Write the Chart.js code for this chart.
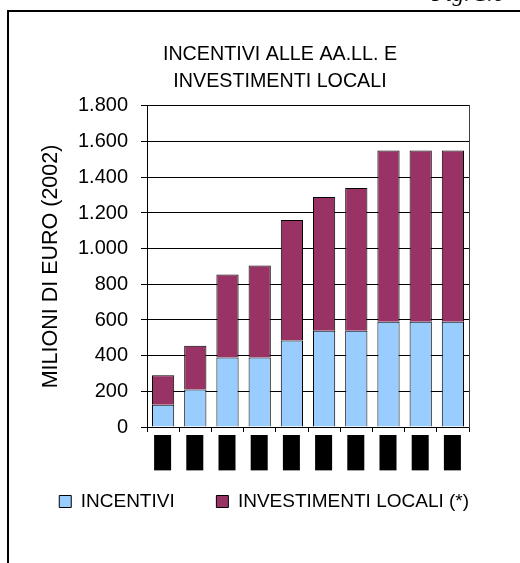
<!DOCTYPE html>
<html>
<head>
<meta charset="utf-8">
<script src="https://cdn.jsdelivr.net/npm/chart.js@4"></script>
<style>
  html, body { margin: 0; padding: 0; background: #fff; }
  #wrap { position: relative; width: 520px; height: 563px; overflow: hidden; }
  #chart { position: absolute; left: 0; top: 0; }
  .frame-top { position: absolute; left: 7px; top: 10px; width: 513px; height: 2px; background: #000; }
  .frame-left { position: absolute; left: 7px; top: 10px; width: 2px; height: 553px; background: #000; }
  .fig { position: absolute; left: 432px; top: -19px; font: italic 23px "Liberation Serif", "DejaVu Serif", serif; color: #000; }
</style>
</head>
<body>
<div id="wrap">
  <canvas id="chart" width="520" height="563"></canvas>
  <div class="frame-top"></div>
  <div class="frame-left"></div>
  <div class="fig">Fig. 1.6</div>
</div>
<script>
// values, milioni di euro (2002)
const years = ["1998", "1999", "2000", "2001", "2002", "2003", "2004", "2005", "2006", "2007"];
const incentivi = [125, 210, 390, 390, 485, 540, 540, 590, 590, 590];
const investimenti = [165, 245, 465, 515, 675, 750, 800, 960, 960, 960];
const yTicks = [0, 200, 400, 600, 800, 1000, 1200, 1400, 1600, 1800];

const FONT = "'Liberation Sans', Arial, sans-serif";

// 1800 -> "1.800"
function fmt(v) {
  return String(v).replace(/\B(?=(\d{3})+(?!\d))/g, ".");
}

// trailing blanks widen the legend items so the two entries sit where Excel put them
const legendGap = "      ";

new Chart(document.getElementById("chart"), {
  type: "bar",
  data: {
    labels: years,
    datasets: [
      { label: "INCENTIVI", data: incentivi, backgroundColor: "#99CCFF", borderColor: "#000", borderWidth: 1 },
      { label: "INVESTIMENTI LOCALI (*)", data: investimenti, backgroundColor: "#993366", borderColor: "#000", borderWidth: 1 },
    ],
  },
  options: {
    responsive: false,
    animation: false,
    layout: { padding: { left: 40, right: 0, top: 0, bottom: 42 } },
    datasets: { bar: { categoryPercentage: 1, barPercentage: 0.69 } },
    scales: {
      x: {
        stacked: true,
        grid: { drawOnChartArea: false, drawTicks: true, tickLength: 5, color: "#000" },
        border: { display: true, color: "#000" },
        ticks: {
          autoSkip: false, minRotation: 90, maxRotation: 90, padding: 4, labelOffset: -8,
          color: "#000", font: { family: FONT, size: 15, lineHeight: 1 },
          showLabelBackdrop: true, backdropColor: "#000", backdropPadding: 1,
        },
        afterFit: (s) => { s.height = 55; },
      },
      y: {
        stacked: true,
        min: 0, max: 1800,
        afterBuildTicks: (s) => { s.ticks = yTicks.map((v) => ({ value: v })); },
        grid: { color: "#000", tickLength: 6 },
        border: { display: true, color: "#000" },
        ticks: { color: "#000", padding: 13, font: { family: FONT, size: 20 }, callback: (v) => fmt(v) },
        title: {
          display: true, text: "MILIONI DI EURO (2002)", color: "#000",
          font: { family: FONT, size: 21.5, lineHeight: 1 }, padding: { top: 0, bottom: 0 },
        },
        afterFit: (s) => { s.width = 107; },
      },
      // empty axis on the right: draws the plot frame and reserves the right margin
      y2: {
        position: "right",
        display: true,
        grid: { display: false },
        ticks: { display: false },
        border: { display: true, color: "#404040" },
        afterFit: (s) => { s.width = 51; },
      },
    },
    plugins: {
      title: {
        display: true,
        text: ["INCENTIVI ALLE AA.LL. E", "INVESTIMENTI LOCALI"],
        color: "#000",
        font: { family: FONT, size: 19.7, weight: "normal", lineHeight: 1.37 },
        padding: { top: 41, bottom: 11 },
      },
      legend: {
        position: "bottom",
        labels: {
          color: "#000", boxWidth: 12, boxHeight: 12, padding: 10,
          font: { family: FONT, size: 19 },
          generateLabels: (chart) =>
            Chart.defaults.plugins.legend.labels.generateLabels(chart).map((l) => ({ ...l, text: l.text + legendGap })),
        },
      },
      tooltip: { enabled: false },
    },
  },
});
</script>
</body>
</html>
